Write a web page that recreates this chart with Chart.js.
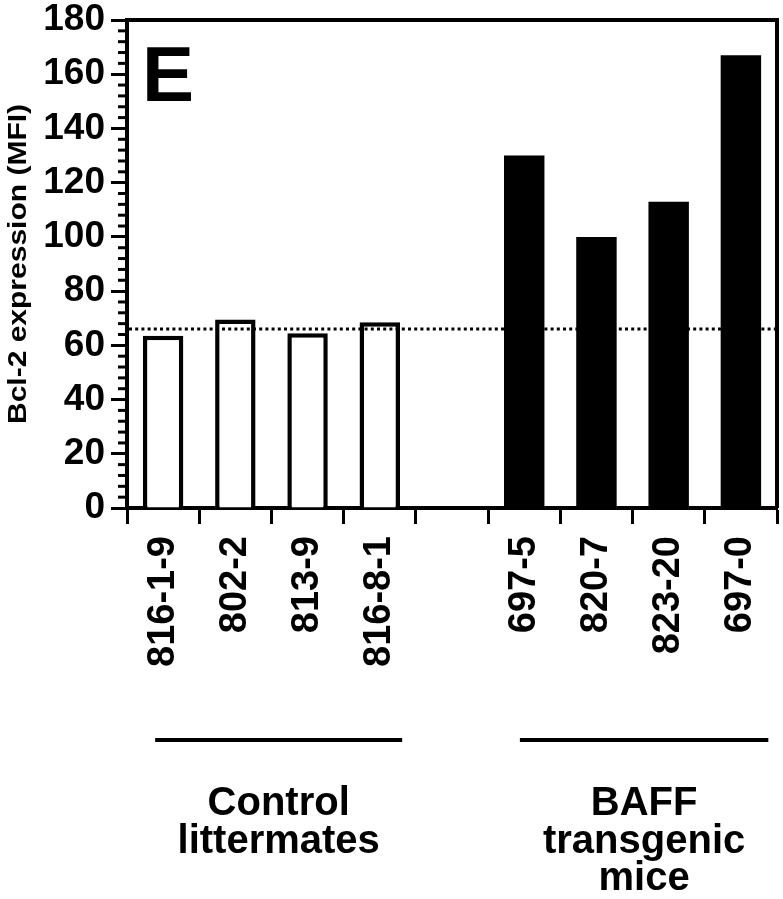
<!DOCTYPE html>
<html>
<head>
<meta charset="utf-8">
<script src="https://cdn.jsdelivr.net/npm/chart.js@4.4.0/dist/chart.umd.min.js"></script>
<style>
  body { margin: 0; background: #fff; }
  canvas { display: block; }
</style>
</head>
<body>
<canvas id="bcl2Chart" width="783" height="899"></canvas>
<script>
// mouse IDs (empty slot separates the two groups)
const mice = ["816-1-9", "802-2", "813-9", "816-8-1", "", "697-5", "820-7", "823-20", "697-0"];
// Bcl-2 MFI per mouse
const bcl2MFI = [63.5, 69.5, 64.5, 68.5, null, 130, 100, 113, 167];
const isTransgenic = [false, false, false, false, false, true, true, true, true];
const thresholdMFI = 66;
const yMin = 0, yMax = 180, yStep = 20, yMinorStep = 4;
const panelLetter = "E";
const yTitle = "Bcl-2 expression (MFI)";
const groupLabels = [["Control", "littermates"], ["BAFF", "transgenic", "mice"]];
// group underline spans, in category units
const groupSpans = [[-0.11, 3.31], [4.94, 8.38]];

const FONT = "'Liberation Sans', Arial, Helvetica, sans-serif";

const extras = {
  id: "extras",
  afterDatasetsDraw(chart) {
    const { ctx, chartArea: a, scales: { y } } = chart;
    const py = y.getPixelForValue(thresholdMFI);
    ctx.save();
    ctx.strokeStyle = "#000";
    ctx.lineWidth = 3;
    ctx.setLineDash([3, 3.2]);
    ctx.beginPath();
    ctx.moveTo(a.left + 2, py);
    ctx.lineTo(a.right, py);
    ctx.stroke();
    ctx.restore();
  },
  afterDraw(chart) {
    const { ctx, chartArea: a, scales: { x, y } } = chart;
    ctx.save();
    ctx.strokeStyle = "#000";
    ctx.fillStyle = "#000";

    // top + right frame
    ctx.lineWidth = 4;
    ctx.beginPath();
    ctx.moveTo(a.left, a.top);
    ctx.lineTo(a.right, a.top);
    ctx.lineTo(a.right, a.bottom);
    ctx.stroke();

    // minor y ticks
    ctx.lineWidth = 3;
    for (let v = yMin; v <= yMax; v += yMinorStep) {
      if (v % yStep === 0) continue;
      const py = y.getPixelForValue(v);
      ctx.beginPath();
      ctx.moveTo(a.left - 9, py);
      ctx.lineTo(a.left, py);
      ctx.stroke();
    }

    // panel letter
    ctx.font = "bold 78px " + FONT;
    ctx.textAlign = "left";
    ctx.textBaseline = "alphabetic";
    ctx.fillText(panelLetter, a.left + 15, a.top + 81);

    // y title (slightly stretched like the original lettering)
    ctx.save();
    ctx.translate(a.left - 108, (a.top + a.bottom) / 2);
    ctx.rotate(-Math.PI / 2);
    ctx.scale(1.2, 1);
    ctx.font = "bold 25px " + FONT;
    ctx.textAlign = "center";
    ctx.textBaseline = "middle";
    ctx.fillText(yTitle, 0, 0);
    ctx.restore();

    // group underlines and names
    ctx.font = "bold 40px " + FONT;
    ctx.textAlign = "center";
    ctx.textBaseline = "alphabetic";
    groupSpans.forEach((span, g) => {
      const x0 = x.getPixelForValue(span[0]);
      const x1 = x.getPixelForValue(span[1]);
      ctx.lineWidth = 4;
      ctx.beginPath();
      ctx.moveTo(x0, a.bottom + 232);
      ctx.lineTo(x1, a.bottom + 232);
      ctx.stroke();
      const cx = (x0 + x1) / 2;
      groupLabels[g].forEach((line, i) => {
        ctx.fillText(line, cx, a.bottom + 307 + i * 37.5);
      });
    });
    ctx.restore();
  }
};

new Chart(document.getElementById("bcl2Chart"), {
  type: "bar",
  data: {
    labels: mice,
    datasets: [{
      data: bcl2MFI,
      backgroundColor: isTransgenic.map(t => t ? "#000" : "#fff"),
      borderColor: "#000",
      borderWidth: isTransgenic.map(t => t ? 0 : 4.5),
      borderSkipped: "start",
      categoryPercentage: 1,
      barPercentage: 0.56
    }]
  },
  options: {
    responsive: false,
    animation: false,
    devicePixelRatio: 1,
    layout: { padding: { top: 20, right: 6, left: 0, bottom: 0 } },
    plugins: {
      legend: { display: false },
      tooltip: { enabled: false }
    },
    scales: {
      x: {
        offset: true,
        grid: {
          offset: true,
          drawOnChartArea: false,
          tickLength: 16,
          tickWidth: 3,
          tickColor: "#000"
        },
        border: { color: "#000", width: 4 },
        ticks: {
          autoSkip: false,
          minRotation: 90,
          maxRotation: 90,
          padding: 12,
          color: "#000",
          font: { family: FONT, size: 38, weight: "bold" }
        },
        afterFit(scale) {
          scale.height = 391;
          scale.paddingLeft = 0;
          scale.paddingRight = 0;
        }
      },
      y: {
        min: yMin,
        max: yMax,
        grid: {
          drawOnChartArea: false,
          tickLength: 16,
          tickWidth: 3,
          tickColor: "#000"
        },
        border: { color: "#000", width: 4 },
        ticks: {
          stepSize: yStep,
          padding: 6,
          color: "#000",
          font: { family: FONT, size: 37, weight: "bold" }
        },
        afterFit(scale) {
          scale.width = 127;
          scale.paddingTop = 0;
          scale.paddingBottom = 0;
        }
      }
    }
  },
  plugins: [extras]
});
</script>
</body>
</html>
